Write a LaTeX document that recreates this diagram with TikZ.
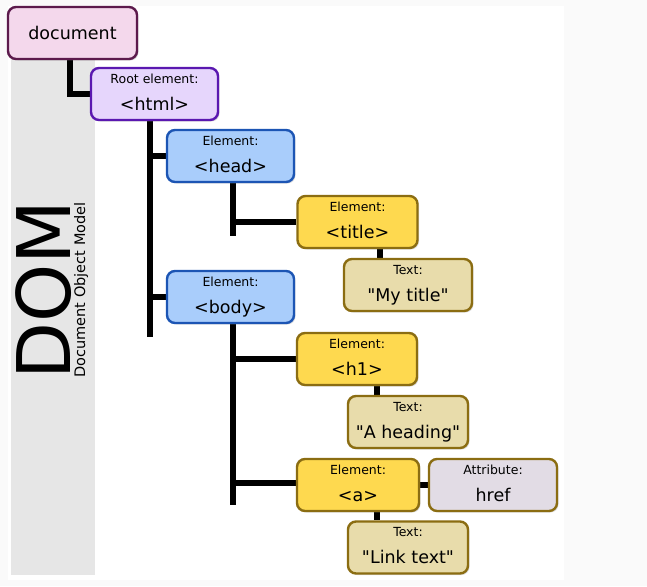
\documentclass[tikz,border=0pt]{standalone}
\usepackage{fontspec}
\newfontfamily\dejavu{DejaVu Sans}
\usepackage{tikz}
\usetikzlibrary{positioning,shadows}

\pgfdeclarelayer{bg}
\pgfdeclarelayer{links}
\pgfsetlayers{bg,links,main}

\definecolor{pagegray}{HTML}{FAFAFA}
\definecolor{bandgray}{HTML}{E6E6E6}
\definecolor{docfill}{HTML}{F4D8EC}
\definecolor{docline}{HTML}{5C1A4C}
\definecolor{rootfill}{HTML}{E6D6FC}
\definecolor{rootline}{HTML}{5A18B0}
\definecolor{blockfill}{HTML}{A9CDFB}
\definecolor{blockline}{HTML}{1C55B4}
\definecolor{elemfill}{HTML}{FED94F}
\definecolor{brownline}{HTML}{8B6D12}
\definecolor{textfill}{HTML}{E8DCAB}
\definecolor{attrfill}{HTML}{E2DCE5}

% label line over main line
\newcommand{\twoline}[2]{{\fontsize{12.5}{14}\selectfont\rule{0pt}{10pt}#1}\\{\rule[-5pt]{0pt}{5pt}#2}}

\begin{document}
\begin{tikzpicture}[x=1pt, y=-1pt,
  every node/.style={font=\dejavu\fontsize{17.5}{27}\selectfont},
  box/.style={draw, rounded corners=8pt, line width=2.4pt, minimum height=52pt, inner sep=0pt, align=center,
    drop shadow={opacity=0.25, shadow xshift=1.5pt, shadow yshift=-1.5pt}},
  docbox/.style={box, fill=docfill, draw=docline},
  rootbox/.style={box, fill=rootfill, draw=rootline},
  blockbox/.style={box, fill=blockfill, draw=blockline},
  elembox/.style={box, fill=elemfill, draw=brownline},
  textbox/.style={box, fill=textfill, draw=brownline},
  attrbox/.style={box, fill=attrfill, draw=brownline},
  link/.style={line width=6pt}]
\useasboundingbox (0,0) rectangle (647,586);

\begin{pgfonlayer}{bg}
\fill[pagegray] (0,0) rectangle (647,586);
\fill[white] (8,6) rectangle (564,580);
\fill[bandgray] (11,40) rectangle (95,575);
\end{pgfonlayer}

\node[rotate=90, anchor=base west, font=\dejavu\fontsize{74}{80}\selectfont] (dom) at (70,383) {DOM};
\node[rotate=90, anchor=base west, font=\dejavu\fontsize{14.5}{17}\selectfont] (domsub) at (85,381) {Document Object Model};

\node[docbox, minimum width=129pt] (doc) at (72.5,33) {document};
\node[rootbox, minimum width=127pt] (html) at (154.5,94) {\twoline{Root element:}{<html>}};
\node[blockbox, minimum width=127pt] (head) at (230.5,156) {\twoline{Element:}{<head>}};
\node[blockbox, minimum width=127pt] (body) at (230.5,297) {\twoline{Element:}{<body>}};
\node[elembox, minimum width=120pt] (title) at (357.5,222) {\twoline{Element:}{<title>}};
\node[textbox, minimum width=128pt] (mytitle) at (408,285) {\twoline{Text:}{"My title"}};
\node[elembox, minimum width=120pt] (h1) at (357,359) {\twoline{Element:}{<h1>}};
\node[textbox, minimum width=120pt] (heading) at (408,422) {\twoline{Text:}{"A heading"}};
\node[elembox, minimum width=122pt] (a) at (358,485) {\twoline{Element:}{<a>}};
\node[attrbox, minimum width=128pt] (href) at (493,485) {\twoline{Attribute:}{href}};
\node[textbox, minimum width=120pt] (linktext) at (408,547.5) {\twoline{Text:}{"Link text"}};

\coordinate (htmlend) at (150,337);
\coordinate (headend) at (233,236);
\coordinate (bodyend) at (233,505);

\begin{pgfonlayer}{links}
\draw[link] ([xshift=-2.5pt]doc.south) |- (html.west);
\draw[link] (html.south -| htmlend) -- (htmlend);
\draw[link] (head.west) -- (head.west -| htmlend);
\draw[link] (body.west) -- (body.west -| htmlend);
\draw[link] (head.south -| headend) -- (headend);
\draw[link] (title.west) -- (title.west -| headend);
\draw[link] (body.south -| bodyend) -- (bodyend);
\draw[link] (h1.west) -- (h1.west -| bodyend);
\draw[link] ([yshift=2pt]a.west) -- ([yshift=2pt]a.west -| bodyend);
\draw[link] ([xshift=22pt]title.south) -- ([xshift=22pt]title.south |- mytitle.north);
\draw[link] ([xshift=20pt]h1.south) -- ([xshift=20pt]h1.south |- heading.north);
\draw[link] ([xshift=19pt]a.south) -- ([xshift=19pt]a.south |- linktext.north);
\draw[link] (a.east) -- (href.west);
\end{pgfonlayer}
\end{tikzpicture}
\end{document}
